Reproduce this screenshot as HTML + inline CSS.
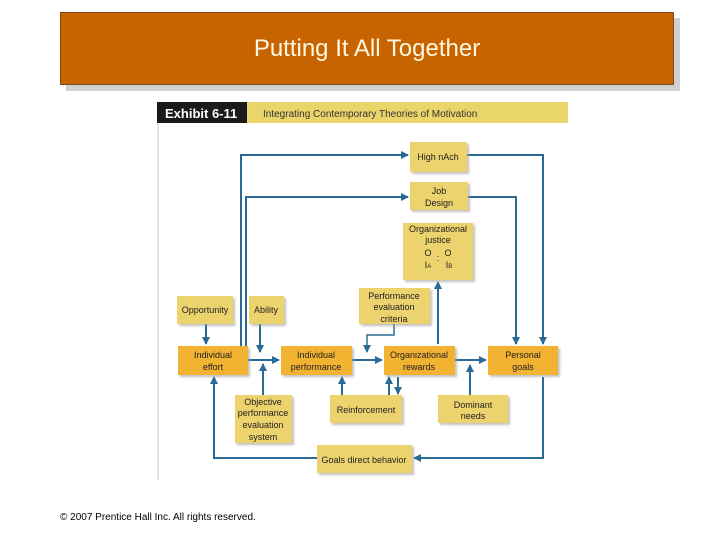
<!DOCTYPE html>
<html><head><meta charset="utf-8"><style>
body{margin:0;width:720px;height:540px;background:#fff;position:relative;overflow:hidden;font-family:"Liberation Sans",sans-serif}
.hdr{position:absolute;left:60px;top:12px;width:612px;height:71px;background:#c86400;border:1px solid #7a4a1a;box-shadow:6px 6px 0 #d0d0d0;color:#fff8e0;font-size:24px;text-align:center;line-height:71px}
.foot{position:absolute;left:60px;top:512px;font-size:10px;color:#000}
</style></head><body>
<div class="hdr">Putting It All Together</div>
<svg style="position:absolute;left:0;top:0" width="720" height="540" font-family="Liberation Sans, sans-serif">
<defs>
<marker id="a" markerWidth="8" markerHeight="8" refX="7" refY="4" orient="auto" markerUnits="userSpaceOnUse"><path d="M0,0L8,4L0,8z" fill="#2b6a96"/></marker>
<filter id="s" x="-10%" y="-10%" width="130%" height="140%"><feDropShadow dx="2" dy="2" stdDeviation="1" flood-color="#999" flood-opacity="0.6"/></filter>
</defs>
<rect x="157" y="102" width="90" height="21" fill="#1a1a1a"/>
<text x="165" y="118" font-size="13" font-weight="bold" fill="#fff">Exhibit 6-11</text>
<rect x="247" y="102" width="321" height="21" fill="#ead56a"/>
<text x="263" y="117" font-size="10" fill="#333">Integrating Contemporary Theories of Motivation</text>
<line x1="158" y1="123" x2="158" y2="480" stroke="#ccc"/>
<g stroke="#2b6a96" stroke-width="2" fill="none">
<polyline points="241,346 241,155 408,155" marker-end="url(#a)"/>
<polyline points="467,155 543,155 543,344" marker-end="url(#a)"/>
<polyline points="246,346 246,197 408,197" marker-end="url(#a)"/>
<polyline points="468,197 516,197 516,344" marker-end="url(#a)"/>
<line x1="438" y1="344" x2="438" y2="282" marker-end="url(#a)"/>
<line x1="206" y1="324" x2="206" y2="344" marker-end="url(#a)"/>
<line x1="260" y1="324" x2="260" y2="352" marker-end="url(#a)"/>
<line x1="263" y1="395" x2="263" y2="364" marker-end="url(#a)"/>
<line x1="248" y1="360" x2="279" y2="360" marker-end="url(#a)"/>
<line x1="352" y1="360" x2="382" y2="360" marker-end="url(#a)"/>
<line x1="455" y1="360" x2="486" y2="360" marker-end="url(#a)"/>
<polyline points="394,324 394,335 367,335 367,352" stroke-width="1.5" marker-end="url(#a)"/>
<line x1="342" y1="395" x2="342" y2="377" marker-end="url(#a)"/>
<line x1="389" y1="395" x2="389" y2="377" marker-end="url(#a)"/>
<line x1="398" y1="377" x2="398" y2="394" marker-end="url(#a)"/>
<line x1="470" y1="395" x2="470" y2="365" marker-end="url(#a)"/>
<polyline points="317,458 214,458 214,377" marker-end="url(#a)"/>
<polyline points="543,377 543,458 414,458" marker-end="url(#a)"/>
</g>
<g filter="url(#s)" fill="#ecd36e">
<rect x="410" y="142" width="57" height="30"/>
<rect x="410" y="182" width="58" height="28"/>
<rect x="403" y="223" width="70" height="57"/>
<rect x="177" y="296" width="56" height="28"/>
<rect x="249" y="296" width="35" height="28"/>
<rect x="359" y="288" width="71" height="36"/>
<rect x="235" y="395" width="57" height="48"/>
<rect x="330" y="395" width="72" height="28"/>
<rect x="438" y="395" width="70" height="28"/>
<rect x="317" y="445" width="95" height="28"/>
</g>
<g filter="url(#s)" fill="#f2b233">
<rect x="178" y="346" width="70" height="29"/>
<rect x="281" y="346" width="71" height="29"/>
<rect x="384" y="346" width="71" height="29"/>
<rect x="488" y="346" width="70" height="29"/>
</g>
<g font-size="9" fill="#222" text-anchor="middle">
<text x="438" y="160">High nAch</text>
<text x="439" y="194">Job</text><text x="439" y="206">Design</text>
<text x="438" y="232">Organizational</text><text x="438" y="243">justice</text>
<text x="428" y="256">O</text><text x="448" y="256">O</text><text x="438" y="261">:</text>
<text x="428" y="268">I<tspan font-size="6">A</tspan></text><text x="449" y="268">I<tspan font-size="6">B</tspan></text>
<text x="205" y="313">Opportunity</text>
<text x="266" y="313">Ability</text>
<text x="394" y="299">Performance</text><text x="394" y="310">evaluation</text><text x="394" y="322">criteria</text>
<text x="213" y="358">Individual</text><text x="213" y="370">effort</text>
<text x="316" y="358">Individual</text><text x="316" y="370">performance</text>
<text x="419" y="358">Organizational</text><text x="419" y="370">rewards</text>
<text x="523" y="358">Personal</text><text x="523" y="370">goals</text>
<text x="263" y="405">Objective</text><text x="263" y="416">performance</text><text x="263" y="428">evaluation</text><text x="263" y="440">system</text>
<text x="366" y="413">Reinforcement</text>
<text x="473" y="408">Dominant</text><text x="473" y="419">needs</text>
<text x="364" y="463">Goals direct behavior</text>
</g>
</svg>
<div class="foot">© 2007 Prentice Hall Inc. All rights reserved.</div>
</body></html>
